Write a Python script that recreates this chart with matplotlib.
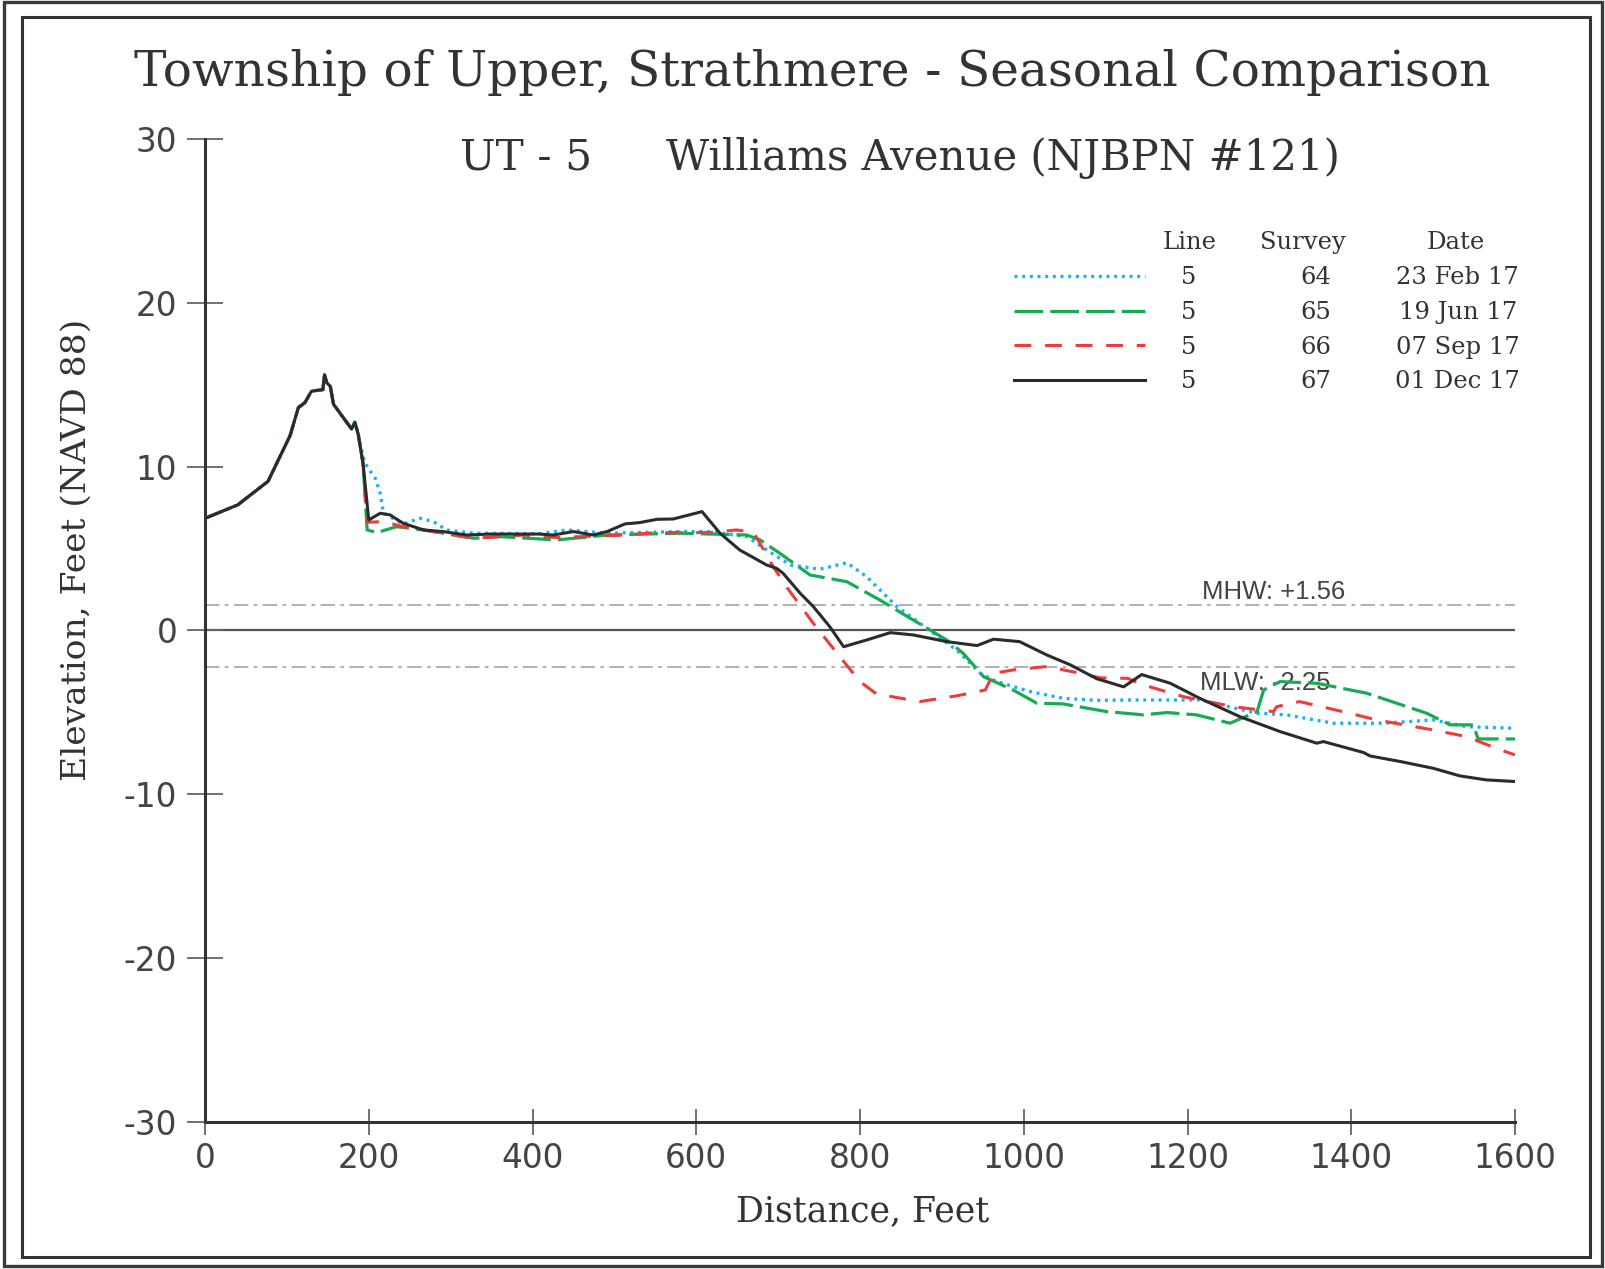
import matplotlib
matplotlib.use("Agg")
import matplotlib.pyplot as plt
from matplotlib.patches import Rectangle

plt.rcParams["axes.unicode_minus"] = False

W, H = 1606, 1269

# dune section is the same for all four surveys
dune_x = [0, 40, 77, 104, 114, 122, 130, 144, 146, 149, 153, 157, 179, 183, 187]
dune_y = [6.84, 7.66, 9.1, 11.9, 13.6, 13.9, 14.6, 14.7, 15.6, 15.1, 14.9, 13.8, 12.3, 12.7, 12.0]

feb_x = dune_x + [193, 198, 208, 214, 218, 242, 263, 279, 295, 328, 409, 442, 491, 580, 617,
                  662, 686, 715, 751, 784, 808, 845, 890, 918, 947, 967, 1008, 1048, 1089,
                  1142, 1215, 1285, 1321, 1378, 1439, 1500, 1541, 1600]
feb_y = dune_y + [10.6, 10.0, 9.28, 8.37, 7.15, 6.5, 6.84, 6.64, 6.13, 5.93, 5.9, 6.13, 5.93,
                  6.03, 6.03, 5.72, 4.91, 3.99, 3.73, 4.13, 3.28, 1.45, -0.18, -1.2, -2.62,
                  -3.13, -3.74, -4.15, -4.27, -4.25, -4.25, -5.06, -5.16, -5.67, -5.67, -5.47,
                  -5.88, -5.98]

jun_x = dune_x + [193, 198, 210, 234, 267, 328, 360, 430, 491, 580, 662, 678, 702, 739, 784,
                  824, 865, 906, 926, 951, 987, 1016, 1048, 1101, 1146, 1175, 1211, 1252,
                  1285, 1293, 1313, 1358, 1419, 1492, 1521, 1549, 1555, 1600]
jun_y = dune_y + [10.2, 6.13, 5.97, 6.33, 6.13, 5.62, 5.72, 5.52, 5.82, 5.93, 5.82, 5.52,
                  4.71, 3.38, 2.97, 1.86, 0.63, -0.59, -1.40, -2.83, -3.64, -4.45, -4.49,
                  -4.96, -5.16, -5.02, -5.16, -5.67, -4.96, -3.64, -3.13, -3.23, -3.84,
                  -5.06, -5.77, -5.77, -6.63, -6.63]

sep_x = dune_x + [193, 198, 218, 242, 267, 328, 389, 430, 513, 552, 617, 649, 670, 694, 710,
                  743, 772, 800, 820, 873, 918, 953, 963, 987, 1028, 1069, 1093, 1127, 1146,
                  1195, 1256, 1305, 1309, 1337, 1398, 1431, 1500, 1541, 1582, 1600]
sep_y = dune_y + [10.2, 6.6, 6.64, 6.33, 6.13, 5.62, 5.82, 5.67, 5.82, 5.97, 5.97, 6.13,
                  5.99, 3.89, 2.67, 0.43, -1.40, -3.13, -3.88, -4.35, -4.0, -3.64, -2.62,
                  -2.42, -2.21, -2.62, -2.9, -2.93, -3.33, -4.05, -4.66, -4.96, -4.66, -4.35,
                  -5.06, -5.47, -6.08, -6.49, -7.30, -7.6]

dec_x = dune_x + [193, 200, 214, 226, 242, 267, 291, 320, 348, 409, 425, 450, 474, 491, 513,
                  531, 552, 572, 607, 629, 653, 686, 698, 706, 727, 743, 763, 780, 808, 837,
                  865, 906, 943, 963, 995, 1028, 1057, 1089, 1122, 1144, 1179, 1215, 1264,
                  1313, 1358, 1366, 1415, 1423, 1460, 1500, 1533, 1565, 1600]
dec_y = dune_y + [10.2, 6.74, 7.15, 7.05, 6.54, 6.13, 6.03, 5.82, 5.88, 5.88, 5.82, 6.03,
                  5.82, 6.03, 6.5, 6.58, 6.78, 6.8, 7.25, 5.93, 4.91, 3.99, 3.79, 3.49, 2.26,
                  1.45, 0.23, -1.0, -0.59, -0.14, -0.28, -0.69, -0.93, -0.54, -0.69, -1.5,
                  -2.11, -2.95, -3.45, -2.7, -3.23, -4.15, -5.27, -6.18, -6.89, -6.79, -7.46,
                  -7.67, -8.01, -8.42, -8.89, -9.13, -9.23]

lines = ["5", "5", "5", "5"]
surveys = ["64", "65", "66", "67"]
dates = ["23 Feb 17", "19 Jun 17", "07 Sep 17", "01 Dec 17"]

MHW, MLW = 1.56, -2.25

STYLES = [
    dict(color="#1ab2ef", linestyle=(0, (0.9, 1.4)), linewidth=2.4),
    dict(color="#1aaa55", linestyle=(0, (9, 2.2)), linewidth=2.3),
    dict(color="#ee3b3b", linestyle=(0, (5.5, 4.5)), linewidth=2.2),
    dict(color="#2b2b2b", linestyle="-", linewidth=2.2),
]

SERIF = "DejaVu Serif"
SANS = "DejaVu Sans"
LEG_FS = 17.5


def fx(px):
    return px / W


def fy(py):
    return 1 - py / H


fig = plt.figure(figsize=(W / 100, H / 100), dpi=100)
ax = fig.add_axes([fx(205), fy(1121.7), fx(1515) - fx(205), fy(139) - fy(1121.7)])

# reference levels
ax.plot([0, 1600], [0, 0], color="#555555", linewidth=1.6, zorder=1)
for lvl in (MHW, MLW):
    ax.plot([0, 1600], [lvl, lvl], color="#aaaaaa", linewidth=1.3,
            linestyle=(0, (8, 3, 2, 3)), zorder=1)
ax.text(1305, MHW + 0.05, "MHW: +1.56", fontsize=18.5, family="Liberation Sans",
        color="#444444", ha="center", va="bottom")
ax.text(1295, MLW - 0.25, "MLW: -2.25", fontsize=18.5, family="Liberation Sans",
        color="#444444", ha="center", va="top")

series = [(feb_x, feb_y), (jun_x, jun_y), (sep_x, sep_y), (dec_x, dec_y)]
for (xs, ys), st in zip(series, STYLES):
    ax.plot(xs, ys, zorder=3, **st)

# legend table
row_y = [21.65, 19.5, 17.4, 15.3]
head_y = 23.7
for label, xc in (("Line", 1202), ("Survey", 1341), ("Date", 1528)):
    ax.text(xc, head_y, label, family=SERIF, fontsize=LEG_FS, color="#333333",
            ha="center", va="center")
for i, st in enumerate(STYLES):
    ax.plot([988, 1148], [row_y[i], row_y[i]], **st)
    ty = row_y[i] - 0.12
    ax.text(1202, ty, lines[i], family=SERIF, fontsize=LEG_FS, color="#333333",
            ha="center", va="center")
    ax.text(1357, ty, surveys[i], family=SERIF, fontsize=LEG_FS, color="#333333",
            ha="center", va="center")
    ax.text(1530, ty, dates[i], family=SERIF, fontsize=LEG_FS, color="#333333",
            ha="center", va="center")

ax.set_xlim(0, 1600)
ax.set_ylim(-30, 30)
ax.set_xticks(range(0, 1601, 200))
ax.set_yticks(range(-30, 31, 10))
for s in ("top", "right"):
    ax.spines[s].set_visible(False)
for s in ("left", "bottom"):
    ax.spines[s].set_color("#333333")
    ax.spines[s].set_linewidth(2.2)
ax.tick_params(axis="y", direction="inout", length=26, width=1.3, color="#666666",
               labelsize=23.5, labelcolor="#444444", pad=7)
ax.tick_params(axis="x", direction="inout", length=19, width=1.3, color="#666666",
               labelsize=23.5, labelcolor="#444444", pad=5)
for lab in ax.get_xticklabels() + ax.get_yticklabels():
    lab.set_family(SANS)

fig.text(fx(812), fy(72), "Township of Upper, Strathmere - Seasonal Comparison",
         family=SERIF, fontsize=35, color="#333333", ha="center", va="center")
fig.text(fx(526), fy(158), "UT - 5", family=SERIF, fontsize=30.5, color="#333333",
         ha="center", va="center")
fig.text(fx(1003), fy(158), "Williams Avenue (NJBPN #121)", family=SERIF, fontsize=30.2,
         color="#333333", ha="center", va="center")
fig.text(fx(77), fy(550), "Elevation, Feet (NAVD 88)", family=SERIF, fontsize=24.8,
         color="#333333", ha="center", va="center", rotation=90)
fig.text(fx(863), fy(1211), "Distance, Feet", family=SERIF, fontsize=25,
         color="#333333", ha="center", va="center")

# double frame around the figure
fig.patches.append(Rectangle((fx(4), fy(1266)), fx(1602) - fx(4), fy(2) - fy(1266),
                             transform=fig.transFigure, fill=False, edgecolor="#3a3a3a",
                             linewidth=2.4))
fig.patches.append(Rectangle((fx(22), fy(1257)), fx(1590) - fx(22), fy(17) - fy(1257),
                             transform=fig.transFigure, fill=False, edgecolor="#333333",
                             linewidth=2.2))

fig.savefig("out.png", dpi=100)
